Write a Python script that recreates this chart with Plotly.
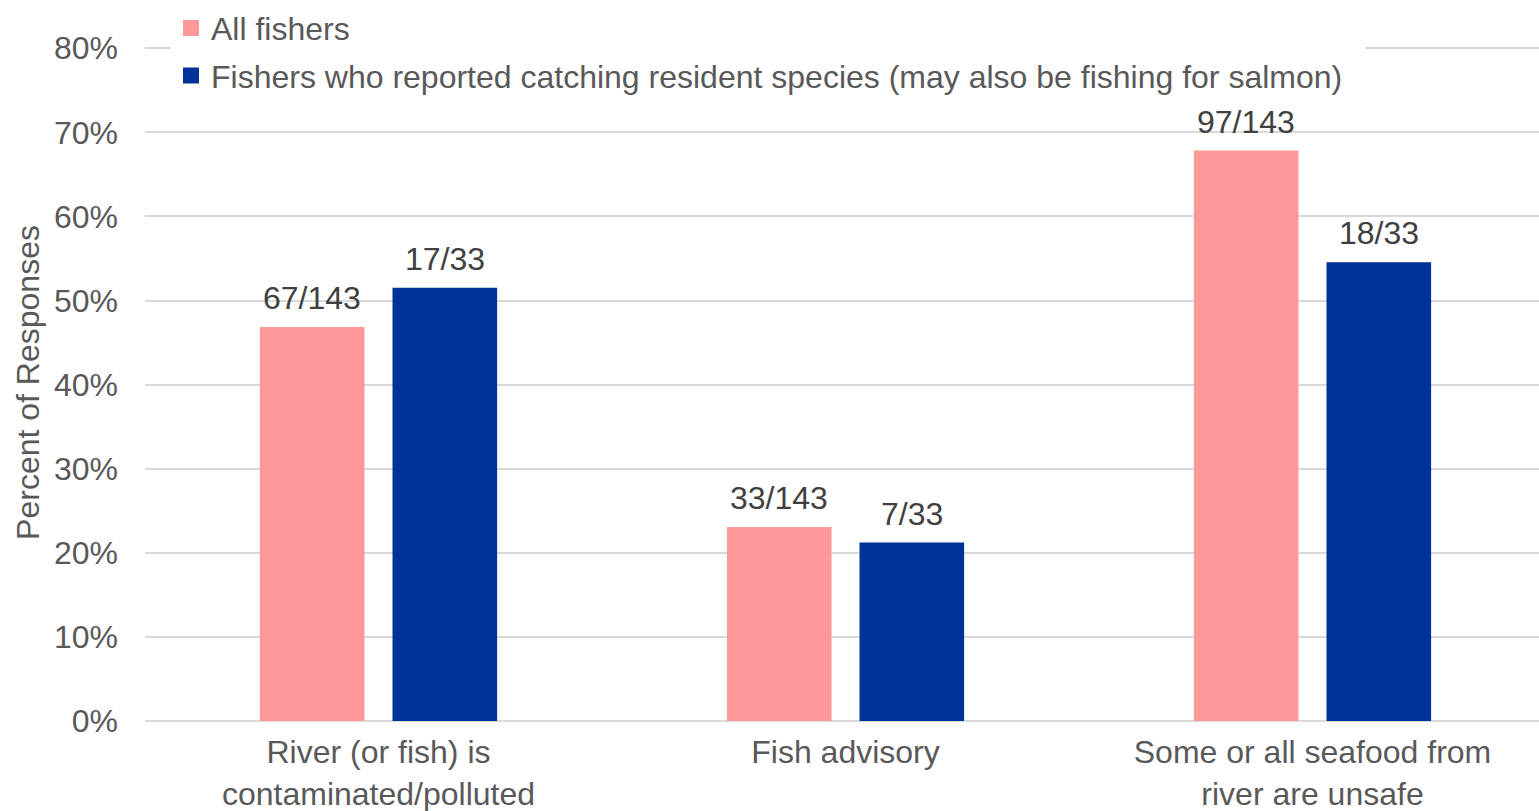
import plotly.graph_objects as go

# Survey responses: numerator / denominator per group
categories = [
    "River (or fish) is<br>contaminated/polluted",
    "Fish advisory",
    "Some or all seafood from<br>river are unsafe",
]
all_fishers_n = [67, 33, 97]
all_fishers_d = [143, 143, 143]
resident_n = [17, 7, 18]
resident_d = [33, 33, 33]

series_names = [
    "All fishers",
    "Fishers who reported catching resident species (may also be fishing for salmon)",
]
colors = ["#FF9999", "#003399"]

y_ticks = [0, 10, 20, 30, 40, 50, 60, 70, 80]
y_tick_labels = [f"{v}%" for v in y_ticks]

FONT = "Liberation Sans, Arial, sans-serif"
FS = 32

def pct(n, d):
    return [a / b * 100 for a, b in zip(n, d)]

def labels(n, d):
    return [f"{a}/{b}" for a, b in zip(n, d)]

fig = go.Figure()
bar_w = 0.224
half_gap = 0.03
x_idx = list(range(len(categories)))
series = [
    (series_names[0], all_fishers_n, all_fishers_d, colors[0], -half_gap - bar_w),
    (series_names[1], resident_n, resident_d, colors[1], half_gap),
]
for i, (name, n, d, color, off) in enumerate(series):
    vals = pct(n, d)
    fig.add_trace(go.Bar(
        x=x_idx,
        y=vals,
        name=name,
        marker=dict(color=color, line=dict(width=0)),
        width=bar_w,
        offset=off,
        showlegend=False,
        cliponaxis=False,
    ))
    # square legend swatch (padded so the white legend box reaches past the text)
    fig.add_trace(go.Scatter(
        x=[None], y=[None], mode="markers", name=name + "\u00a0\u00a0",
        marker=dict(symbol="square", size=16, color=color),
        legendgroup=f"g{i}",
    ))
    # n/d labels above each bar
    for xi, v, t in zip(x_idx, vals, labels(n, d)):
        fig.add_annotation(
            x=xi + off + bar_w / 2, y=v, text=t, showarrow=False,
            xanchor="center", yanchor="middle", yshift=29,
            font=dict(family=FONT, size=FS, color="#404040"),
        )

fig.update_layout(
    width=1539,
    height=811,
    barmode="overlay",
    paper_bgcolor="white",
    plot_bgcolor="white",
    margin=dict(l=145, r=0, t=44, b=90),
    font=dict(family=FONT, size=FS, color="#595959"),
    showlegend=True,
    legend=dict(
        x=26 / 1394, y=1.064, xanchor="left", yanchor="top",
        bgcolor="white", borderwidth=0,
        font=dict(family=FONT, size=FS, color="#595959"),
        traceorder="grouped", tracegroupgap=3,
    ),
    xaxis=dict(
        range=[-0.5, 2.485],
        tickmode="array",
        tickvals=x_idx,
        ticktext=categories,
        showgrid=False,
        zeroline=False,
        showline=False,
        ticks="",
        ticklabelstandoff=9,
        automargin=False,
        tickfont=dict(family=FONT, size=FS, color="#595959"),
    ),
    yaxis=dict(
        range=[0, 80.5],
        tickmode="array",
        tickvals=y_ticks,
        ticktext=y_tick_labels,
        showgrid=True,
        gridcolor="#D9D9D9",
        gridwidth=1.5,
        zeroline=True,
        zerolinecolor="#D9D9D9",
        zerolinewidth=1.5,
        showline=False,
        ticks="",
        ticklabelstandoff=26,
        automargin=False,
        tickfont=dict(family=FONT, size=FS, color="#595959"),
        title=dict(text="Percent of Responses",
                   font=dict(family=FONT, size=FS, color="#595959"),
                   standoff=4),
    ),
)

fig.write_html("out.html")
